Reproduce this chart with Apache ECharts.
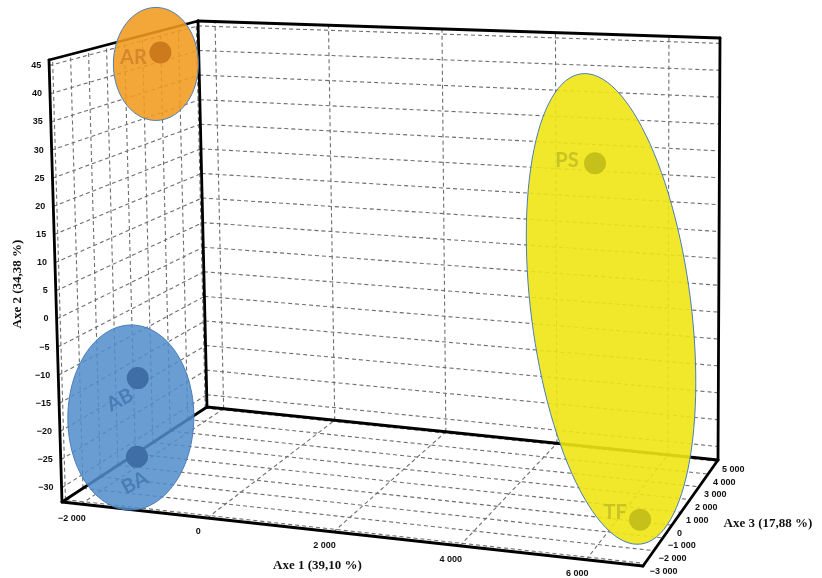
<!DOCTYPE html>
<html>
<head>
<meta charset="utf-8">
<script src="https://cdn.jsdelivr.net/npm/echarts@6/dist/echarts.min.js"></script>
<style>
html,body{margin:0;padding:0;background:#ffffff;}
#chart{width:822px;height:578px;}
</style>
</head>
<body>
<div id="chart"></div>
<script>
// ---------------- data ----------------
const samples = ['AR', 'AB', 'BA', 'PS', 'TF'];
const sampleGroup = [0, 1, 1, 2, 2];
const axe1 = [-1700, -1730, -1775, 5290, 6480];   // Axe 1 (39,10 %)
const axe2 = [44.0, -14.3, -28.8, 26.3, -30.5];   // Axe 2 (34,38 %)
const axe3 = [950, -710, -710, 1780, -710];       // Axe 3 (17,88 %)

const axe1Ticks = [-2000, 0, 2000, 4000, 6000];
const axe2Ticks = [-30, -25, -20, -15, -10, -5, 0, 5, 10, 15, 20, 25, 30, 35, 40, 45];
const axe3Ticks = [-3000, -2000, -1000, 0, 1000, 2000, 3000, 4000, 5000];
const axisTitles = ['Axe 1 (39,10 %)', 'Axe 2 (34,38 %)', 'Axe 3 (17,88 %)'];

// ---------------- 3D box layout ----------------
const X_RANGE = [-2300, 6900];
const Y_RANGE = [-32.5, 46];
const Z_RANGE = [-3200, 5100];
// screen position of the 8 box corners, key = x y z (0 = min, 1 = max)
const CORNERS = {
  '000': [62, 502], '010': [49, 60], '001': [207, 407], '011': [198, 21],
  '100': [643, 566], '110': [651, 84], '101': [718, 460], '111': [720, 38]
};
function project(a, b, c) {
  const u = (a - X_RANGE[0]) / (X_RANGE[1] - X_RANGE[0]);
  const v = (b - Y_RANGE[0]) / (Y_RANGE[1] - Y_RANGE[0]);
  const w = (c - Z_RANGE[0]) / (Z_RANGE[1] - Z_RANGE[0]);
  let x = 0, y = 0;
  for (const i of [0, 1]) for (const j of [0, 1]) for (const k of [0, 1]) {
    const wt = (i ? u : 1 - u) * (j ? v : 1 - v) * (k ? w : 1 - w);
    const p = CORNERS['' + i + j + k];
    x += wt * p[0]; y += wt * p[1];
  }
  return [x, y];
}
const [x0, x1] = X_RANGE, [y0, y1] = Y_RANGE, [z0, z1] = Z_RANGE;

// grid lines
const gridSegs = [];
axe1Ticks.forEach(t => { gridSegs.push([project(t, y0, z1), project(t, y1, z1)]); gridSegs.push([project(t, y0, z0), project(t, y0, z1)]); });
axe2Ticks.forEach(t => { gridSegs.push([project(x0, t, z1), project(x1, t, z1)]); gridSegs.push([project(x0, t, z0), project(x0, t, z1)]); });
axe3Ticks.forEach(t => { gridSegs.push([project(x0, y0, t), project(x0, y1, t)]); gridSegs.push([project(x0, y0, t), project(x1, y0, t)]); });

// box edges
const edgeSegs = [
  [project(x0, y0, z0), project(x0, y1, z0)],
  [project(x0, y1, z0), project(x0, y1, z1)],
  [project(x0, y1, z1), project(x0, y0, z1)],
  [project(x0, y0, z0), project(x0, y0, z1)],
  [project(x0, y1, z1), project(x1, y1, z1)],
  [project(x1, y1, z1), project(x1, y0, z1)],
  [project(x0, y0, z1), project(x1, y0, z1)],
  [project(x0, y0, z0), project(x1, y0, z0)],
  [project(x1, y0, z0), project(x1, y0, z1)]
];

function fmt(n) {
  const s = String(Math.abs(n)).replace(/\B(?=(\d{3})+(?!\d))/g, ' ');
  return (n < 0 ? '\u2212' : '') + s;
}
const TICK_FONT = 'bold 9px "Liberation Sans", Arial, sans-serif';
const TITLE_FONT = 'bold 13px "Liberation Serif", "DejaVu Serif", serif';
const texts = [];
axe2Ticks.forEach(t => { const p = project(x0, t, z0); texts.push({ p: [p[0] - 8, p[1]], text: fmt(t), align: 'right', font: TICK_FONT }); });
axe1Ticks.forEach(t => { const p = project(t, y0, z0); texts.push({ p: [p[0] - 9, p[1] + 14], text: fmt(t), align: 'center', font: TICK_FONT }); });
axe3Ticks.forEach(t => { const p = project(x1, y0, t); texts.push({ p: [p[0] + 5, p[1] + 8], text: fmt(t), align: 'left', font: TICK_FONT }); });
{
  const p1 = project((x0 + x1) / 2, y0, z0);
  texts.push({ p: [p1[0] - 35, p1[1] + 32], text: axisTitles[0], align: 'center', font: TITLE_FONT });
  const p2 = project(x0, (y0 + y1) / 2, z0);
  texts.push({ p: [p2[0] - 38, p2[1] + 3], text: axisTitles[1], align: 'center', font: TITLE_FONT, rot: Math.PI / 2 });
  const p3 = project(x1, y0, (z0 + z1) / 2);
  texts.push({ p: [p3[0] + 43, p3[1] + 11], text: axisTitles[2], align: 'left', font: TITLE_FONT });
}

// groups (hull ellipses drawn around projected members)
const HULLS = [
  { fill: 'rgba(242,155,30,0.88)', dx: -4.5, dy: 11.5, rx: 42.5, ry: 56.5 },
  { fill: 'rgba(82,142,204,0.86)', dx: -6.5, dy: 0, rx: 63, ry: 92.5 },
  { fill: 'rgba(240,228,20,0.9)', dx: -6.5, dy: -32.5, rx: 80, ry: 237 }
];
const POINT_COLORS = ['#CC7A1C', '#3F6EA6', '#C6C11A'];
const LABEL_COLORS = ['#D6872C', '#4A7DB5', '#C9C424'];
const LABEL_LAYOUT = [
  { offset: [-27, 5], rotate: 0 },
  { offset: [-26, 11], rotate: 28 },
  { offset: [-14, 22], rotate: 28 },
  { offset: [-28, -3], rotate: 0 },
  { offset: [-25, -7], rotate: 0 }
];

const projected = samples.map((s, i) => project(axe1[i], axe2[i], axe3[i]));

function hullPolygon(g) {
  const pts = projected.filter((p, i) => sampleGroup[i] === g);
  const cx = pts.reduce((s, p) => s + p[0], 0) / pts.length + HULLS[g].dx;
  const cy = pts.reduce((s, p) => s + p[1], 0) / pts.length + HULLS[g].dy;
  let th = 0;
  if (pts.length > 1) th = Math.atan2(pts[pts.length - 1][0] - pts[0][0], pts[pts.length - 1][1] - pts[0][1]);
  const poly = [];
  for (let k = 0; k < 120; k++) {
    const t = k / 120 * Math.PI * 2;
    const lx = HULLS[g].rx * Math.cos(t), ly = HULLS[g].ry * Math.sin(t);
    poly.push([cx + lx * Math.cos(th) + ly * Math.sin(th), cy - lx * Math.sin(th) + ly * Math.cos(th)]);
  }
  return poly;
}
const hullPolys = HULLS.map((h, g) => hullPolygon(g));

const chart = echarts.init(document.getElementById('chart'), null, { renderer: 'canvas' });
chart.setOption({
  animation: false,
  backgroundColor: '#ffffff',
  grid: { left: 0, right: 0, top: 0, bottom: 0 },
  xAxis: { type: 'value', min: 0, max: 822, show: false },
  yAxis: { type: 'value', min: 0, max: 578, inverse: true, show: false },
  series: [
    {
      type: 'lines', coordinateSystem: 'cartesian2d', silent: true, z: 1,
      lineStyle: { color: '#6e6e6e', width: 1.1, type: [4, 3], opacity: 1 },
      data: gridSegs.map(s => ({ coords: s }))
    },
    {
      type: 'lines', coordinateSystem: 'cartesian2d', silent: true, z: 2,
      lineStyle: { color: '#000000', width: 2.8, opacity: 1, cap: 'round' },
      data: edgeSegs.map(s => ({ coords: s }))
    },
    {
      type: 'custom', coordinateSystem: 'cartesian2d', silent: true, z: 3,
      data: HULLS.map((h, g) => [g, g]),
      renderItem: function (params, api) {
        const g = params.dataIndex;
        return {
          type: 'polygon',
          shape: { points: hullPolys[g].map(p => api.coord(p)) },
          style: { fill: HULLS[g].fill, stroke: '#4A7EBB', lineWidth: 1 }
        };
      }
    },
    {
      type: 'scatter', z: 4, symbol: 'circle', symbolSize: 22, silent: true,
      data: samples.map((s, i) => ({
        name: s,
        value: projected[i],
        itemStyle: { color: POINT_COLORS[sampleGroup[i]], opacity: 1 },
        label: {
          show: true, formatter: '{b}', position: 'inside',
          offset: LABEL_LAYOUT[i].offset, rotate: LABEL_LAYOUT[i].rotate,
          color: LABEL_COLORS[sampleGroup[i]], fontSize: 20, fontWeight: 'bold',
          fontFamily: 'Lato, "Open Sans", sans-serif'
        }
      }))
    },
    {
      type: 'custom', coordinateSystem: 'cartesian2d', silent: true, z: 5,
      data: texts.map(t => t.p),
      renderItem: function (params, api) {
        const t = texts[params.dataIndex];
        const c = api.coord(t.p);
        return {
          type: 'text', x: c[0], y: c[1], rotation: t.rot || 0,
          style: { text: t.text, align: t.align, verticalAlign: 'middle', font: t.font, fill: '#111111' }
        };
      }
    }
  ]
});
</script>
</body>
</html>
